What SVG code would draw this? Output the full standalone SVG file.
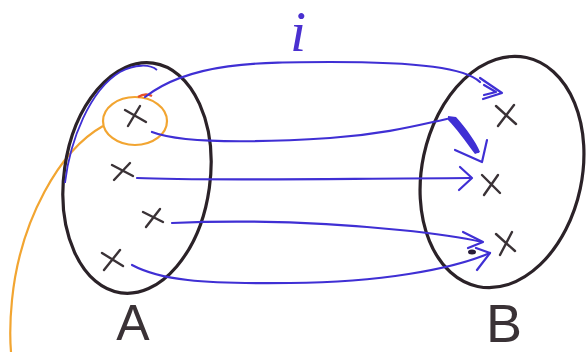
<svg xmlns="http://www.w3.org/2000/svg" width="586" height="352" viewBox="0 0 586 352">
<style>
.set{fill:none;stroke:#2b2228;stroke-width:3.2}
.x{stroke:#3a3236;stroke-width:2.4;stroke-linecap:round;fill:none}
.arr{fill:none;stroke:#3f2fd4;stroke-width:2.2;stroke-linecap:round;stroke-linejoin:round}
.lbl{font-family:"Liberation Sans",sans-serif;fill:#3a3236}
.hl{fill:none;stroke:#f2a531;stroke-width:2.2}
</style>
<rect width="586" height="352" fill="#ffffff"/>
<g id="highlight">
<ellipse class="hl" cx="135" cy="121" rx="32" ry="24"/>
<path class="hl" d="M103,126 C60,150 20,220 12,300 C10,320 10,340 11,352"/>
<path d="M138,97 C143,94 148,94 152,96" fill="none" stroke="#e8502a" stroke-width="2.4"/>
</g>
<g id="setA">
<ellipse class="set" cx="137" cy="178" rx="73" ry="116" transform="rotate(8 137 178)"/>
<path d="M65,183 C70,140 90,90 120,72 C135,64 150,64 157,70" fill="none" stroke="#3f2fd4" stroke-width="1.8"/>
<g class="x"><path d="M125,110 L146,122 M140,106 L128,126"/></g>
<g class="x"><path d="M112,165 L133,176 M130,163 L114,180"/></g>
<g class="x"><path d="M143,212 L163,222 M160,209 L146,227"/></g>
<g class="x"><path d="M102,253 L123,266 M120,250 L104,270"/></g>
<text class="lbl" x="133" y="340" font-size="50" text-anchor="middle">A</text>
</g>
<g id="setB">
<ellipse class="set" cx="502" cy="172" rx="80" ry="117" transform="rotate(12 502 172)"/>
<g class="x"><path d="M496,106 L516,124 M514,105 L498,126"/></g>
<g class="x"><path d="M482,175 L500,193 M498,175 L484,195"/></g>
<g class="x"><path d="M496,234 L515,251 M512,232 L500,255"/></g>
<text class="lbl" x="504" y="342" font-size="54" text-anchor="middle">B</text>
</g>
<g id="connectors">
<path class="arr" d="M145,97 C190,62 260,62 330,62 C420,62 465,68 480,82"/>
<path class="arr" d="M480,78 L502,93 L483,99 M484,85 L496,92 L484,95"/>
<path class="arr" d="M152,132 C180,143 250,143 330,138 C390,134 430,122 452,118 L478,152"/>
<path d="M448,116 L456,117 C466,128 476,142 480,152 L475,154 C466,142 456,128 448,120 Z" fill="#3f2fd4"/>
<path class="arr" d="M455,150 L482,162 L487,140"/>
<path class="arr" d="M137,178 C200,181 300,179 470,178"/>
<path class="arr" d="M460,167 L472,178 L459,190"/>
<path class="arr" d="M172,223 C240,220 320,222 400,230 C440,234 465,238 482,242"/>
<path class="arr" d="M463,232 L483,242 L468,248"/>
<path class="arr" d="M132,265 C160,280 200,284 290,283 C380,282 450,270 490,253"/>
<path class="arr" d="M476,248 L490,253 L477,270"/>
<ellipse cx="472" cy="252" rx="4" ry="2.5" fill="#2a1e3a"/>
</g>
<text id="label-i" x="298" y="51" font-family="Liberation Serif,serif" font-style="italic" font-size="58" fill="#4a30d0" text-anchor="middle">i</text>
</svg>
